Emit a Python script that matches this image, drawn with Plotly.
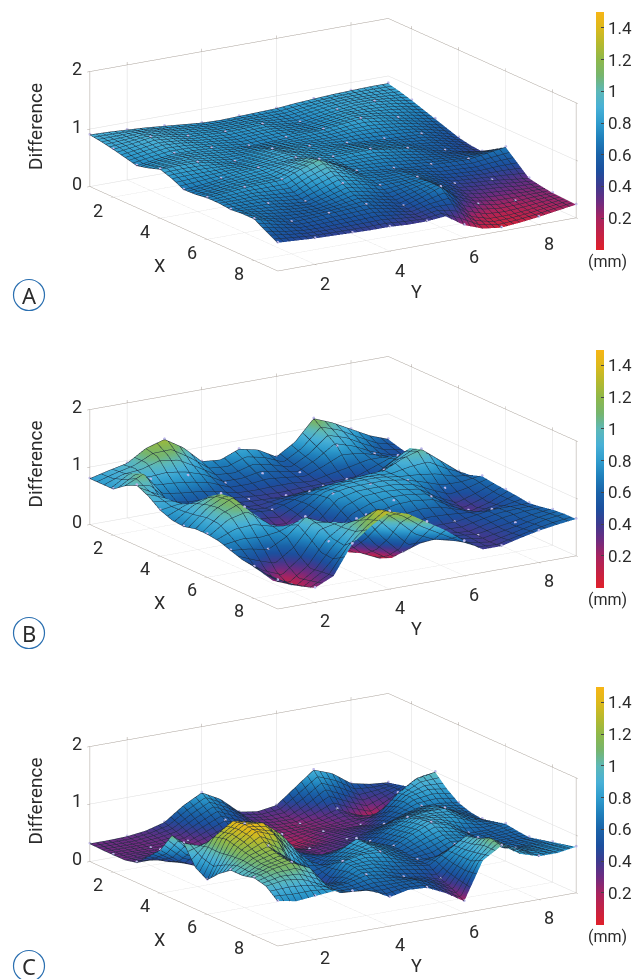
import plotly.graph_objects as go

grid = [1,1.5,2,2.5,3,3.5,4,4.5,5,5.5,6,6.5,7,7.5,8,8.5,9]
z_a = [
[.90,.89,.87,.85,.82,.79,.76,.75,.76,.77,.78,.81,.83,.85,.86,.87,.87],
[.87,.88,.90,.88,.83,.80,.77,.77,.78,.76,.75,.79,.83,.85,.85,.84,.82],
[.83,.87,.92,.88,.82,.80,.78,.79,.80,.75,.72,.77,.82,.85,.85,.81,.76],
[.78,.83,.88,.86,.81,.78,.75,.77,.78,.75,.74,.79,.84,.83,.80,.76,.69],
[.73,.78,.82,.82,.80,.76,.72,.73,.75,.77,.78,.82,.85,.81,.75,.69,.62],
[.78,.83,.85,.82,.78,.76,.78,.77,.76,.75,.75,.77,.77,.74,.70,.63,.55],
[.85,.86,.85,.80,.75,.79,.85,.81,.78,.75,.72,.70,.68,.67,.65,.57,.48],
[.78,.79,.79,.79,.78,.83,.88,.83,.78,.77,.76,.72,.69,.63,.60,.52,.44],
[.68,.71,.75,.79,.82,.85,.88,.83,.78,.79,.80,.75,.70,.62,.55,.48,.42],
[.69,.72,.76,.78,.80,.90,.98,.85,.74,.74,.73,.69,.64,.60,.56,.54,.55],
[.72,.75,.78,.79,.80,.93,1.04,.88,.72,.68,.65,.62,.60,.59,.58,.63,.68],
[.72,.72,.73,.70,.68,.82,.93,.82,.70,.67,.68,.60,.52,.50,.48,.50,.50],
[.70,.69,.68,.63,.60,.69,.80,.74,.65,.66,.68,.57,.45,.42,.40,.36,.32],
[.72,.66,.62,.59,.58,.63,.70,.63,.55,.63,.70,.52,.37,.33,.31,.28,.28],
[.72,.63,.55,.56,.58,.60,.62,.55,.48,.58,.70,.42,.28,.22,.22,.24,.25],
[.60,.54,.50,.49,.50,.51,.52,.48,.43,.50,.50,.22,.13,.13,.16,.20,.24],
[.49,.47,.45,.44,.43,.42,.42,.40,.40,.43,.22,.10,.06,.09,.13,.18,.23]]
z_b = [
[.80,.88,.95,1.15,1.25,1.05,.75,.72,.85,.78,.60,.80,1.15,1.02,.85,.68,.56],
[.80,.90,.98,1.10,1.05,.85,.65,.62,.72,.65,.54,.72,1.0,.90,.72,.56,.50],
[.80,1.02,.85,.85,.80,.72,.55,.55,.60,.55,.50,.65,.85,.75,.60,.50,.45],
[.95,1.10,.70,.65,.62,.56,.48,.47,.48,.48,.45,.52,.58,.65,.65,.55,.48],
[1.05,.85,.55,.48,.50,.48,.45,.42,.40,.42,.45,.42,.40,.55,.75,.68,.55],
[.95,.85,.65,.52,.50,.45,.42,.48,.52,.58,.60,.58,.58,.78,.98,.80,.55],
[.80,.85,.80,.65,.55,.48,.45,.55,.65,.72,.75,.78,.80,.95,1.05,.80,.55],
[.72,.92,1.02,.78,.50,.38,.35,.55,.75,.82,.85,.85,.80,.80,.78,.65,.58],
[.70,.98,1.15,.82,.40,.28,.25,.50,.80,.85,.85,.85,.80,.68,.55,.58,.65],
[.75,1.02,1.18,.85,.45,.22,.18,.35,.68,.80,.82,.80,.75,.55,.40,.50,.62],
[.75,1.0,1.10,.82,.50,.25,.15,.25,.55,.68,.75,.75,.70,.50,.35,.45,.60],
[.72,.82,.82,.78,.80,.60,.28,.12,.25,.45,.55,.60,.58,.50,.42,.48,.58],
[.65,.62,.55,.72,1.0,.85,.50,.20,.05,.20,.40,.45,.45,.50,.55,.55,.55],
[.58,.38,.25,.50,.92,.95,.80,.40,.15,.30,.48,.42,.40,.48,.55,.58,.58],
[.55,.25,.12,.35,.75,1.0,1.10,.70,.35,.45,.55,.45,.40,.45,.50,.57,.62],
[.52,.32,.18,.38,.70,1.05,1.30,1.05,.75,.60,.52,.43,.38,.45,.52,.60,.64],
[.50,.35,.25,.40,.90,1.15,1.35,1.25,1.05,.85,.60,.40,.40,.48,.55,.60,.64]]
z_c = [
[.31,.31,.32,.36,.45,.68,.85,.68,.40,.35,.40,.65,.90,.78,.55,.48,.45],
[.30,.30,.30,.33,.38,.55,.70,.55,.35,.30,.30,.45,.65,.50,.35,.42,.50],
[.30,.30,.30,.30,.30,.42,.55,.42,.30,.26,.25,.30,.40,.25,.15,.35,.55],
[.30,.32,.30,.27,.26,.30,.38,.30,.22,.24,.26,.28,.32,.28,.38,.65,.85],
[.35,.35,.30,.26,.25,.27,.30,.22,.15,.22,.30,.30,.30,.45,.75,.95,1.0],
[.55,.40,.32,.32,.32,.30,.32,.28,.22,.26,.32,.36,.40,.58,.78,.85,.80],
[.75,.50,.35,.38,.40,.36,.35,.32,.30,.32,.35,.42,.50,.62,.70,.70,.65],
[1.10,.75,.65,.50,.42,.42,.45,.38,.30,.35,.42,.55,.68,.75,.80,.68,.58],
[1.05,.95,1.10,.85,.50,.50,.55,.45,.35,.42,.50,.68,.80,.85,.85,.68,.55],
[.72,1.20,1.42,1.35,.95,.62,.52,.55,.60,.58,.55,.72,.88,.85,.78,.65,.60],
[.60,1.25,1.45,1.42,1.15,.75,.50,.68,.85,.72,.60,.76,.90,.80,.60,.60,.65],
[.80,1.20,1.42,1.30,.85,.55,.62,.75,.85,.70,.58,.68,.78,.72,.60,.60,.62],
[.95,1.15,1.25,1.0,.25,.40,.75,.82,.80,.65,.55,.55,.70,.68,.60,.60,.60],
[.95,1.10,1.18,.98,.55,.55,.75,.75,.65,.60,.55,.75,.95,.80,.62,.62,.65],
[1.0,1.10,1.15,1.0,.60,.62,.70,.65,.55,.50,.40,.75,1.0,.85,.70,.68,.70],
[.95,1.0,.95,.80,.60,.58,.60,.60,.60,.48,.32,.75,1.10,.90,.75,.72,.75],
[.78,.72,.75,.78,.72,.68,.50,.57,.55,.40,.20,.85,1.05,.85,.75,.75,.80]]
panels = ["A","B","C"]
cbar_vals = [.2,.4,.6,.8,1,1.2,1.4]
cbar_text = ["0.2","0.4","0.6","0.8","1","1.2","1.4"]
xy_ticks = [2,4,6,8]
z_ticks = [0,1,2]
cs = [[0,"#e0202a"],[.133,"#a8235f"],[.2,"#6f2b80"],[.267,"#3f3a8e"],[.333,"#1c4f9e"],[.4,"#1a62a8"],
      [.467,"#1f7fbb"],[.533,"#2f9ccd"],[.6,"#48b0d6"],[.667,"#5db8b8"],[.733,"#76b56e"],[.8,"#8eb84a"],
      [.867,"#b5b92e"],[.933,"#dcb91c"],[1,"#f7b516"]]

W,H = 640,979
FONT = "Roboto"
TXT = "#2b2b2b"
SCALE = 2.32
fig = go.Figure()
offs = [0,337.5,674.5]
letter_y = [295,633,966]
mesh = [0.1667,0.3,0.1667]
ann=[];shapes=[]
layout={}
for i,(z,off) in enumerate(zip([z_a,z_b,z_c],offs)):
    sid = "scene" if i==0 else f"scene{i+1}"
    zt = [list(r) for r in zip(*z)]
    fig.add_surface(x=grid,y=grid,z=zt,scene=sid,cmin=0,cmax=1.5,colorscale=cs,
        lighting=dict(ambient=1,diffuse=0,specular=0,fresnel=0),
        contours=dict(x=dict(show=True,start=1,end=9,size=mesh[i],color="#1c2a3c",width=1),
                      y=dict(show=True,start=1,end=9,size=mesh[i],color="#1c2a3c",width=1)),
        colorbar=dict(x=596/W,xanchor="left",y=1-(12+off)/H,yanchor="top",len=238/H,lenmode="fraction",
                      thickness=8,ypad=0,xpad=0,outlinewidth=0,tickvals=cbar_vals,ticktext=cbar_text,
                      ticks="inside",ticklen=3,tickcolor="#444",tickfont=dict(family=FONT,size=17,color=TXT)))
    nodes = [(grid[a],grid[b],z[a][b]+.012) for a in range(0,17,2) for b in range(0,17,2)]
    fig.add_scatter3d(x=[n[0] for n in nodes],y=[n[1] for n in nodes],z=[n[2] for n in nodes],scene=sid,
                      mode="markers",marker=dict(size=1.6,color="#bdb8ea"),showlegend=False,hoverinfo="skip")
    def ax(tv,rng):
        return dict(range=rng,tickvals=tv,title=dict(text=""),showbackground=False,showline=True,mirror="all",
            linecolor="#a89f98",linewidth=1,gridcolor="#dcdcdc",gridwidth=1,zeroline=False,showspikes=False,
            showticklabels=False,ticks="outside",ticklen=3,tickcolor="#a89f98")
    y0 = off
    y1 = off+304
    sa=[]
    def SA(x,y,zv,s,dx,dy):
        sa.append(dict(x=x,y=y,z=zv,text=s,showarrow=False,xshift=dx,yshift=dy,
                       font=dict(family=FONT,size=18,color=TXT)))
    for t in xy_ticks:
        SA(t,1,0,str(t),-15,-13)
        SA(9,t,0,str(t),10,-19)
    for t in z_ticks:
        SA(1,1,t,str(t),-13,3)
    layout[sid]=dict(domain=dict(x=[26/W,1],y=[1-y1/H,1-y0/H]),
        xaxis=ax(xy_ticks,[1,9]),yaxis=ax(xy_ticks,[1,9]),zaxis=ax(z_ticks,[0,2]),
        aspectmode="manual",aspectratio=dict(x=SCALE,y=SCALE,z=.34*SCALE),annotations=sa,
        camera=dict(projection=dict(type="orthographic"),up=dict(x=0,y=0,z=1),center=dict(x=0,y=0,z=-0.05),
                    eye=dict(x=.807*1.6,y=-.508*1.6,z=.40)))
    def T(px,py,s,size=19,ang=0,fam=FONT):
        ann.append(dict(x=px/W,y=1-py/H,xref="paper",yref="paper",text=s,showarrow=False,textangle=ang,
                        font=dict(family=fam,size=size,color=TXT),xanchor="center",yanchor="middle"))
    T(35,127+off,"Difference",19,-90)
    T(159,265+off,"X",18)
    T(416,291+off,"Y",18)
    T(607,262+off,"(mm)",16)
    T(29,letter_y[i],panels[i],22,0,"Noto Sans")
    shapes.append(dict(type="circle",xref="paper",yref="paper",x0=13.5/W,x1=44.5/W,y0=1-(letter_y[i]+15.5)/H,y1=1-(letter_y[i]-15.5)/H,
                       line=dict(color="#2a6fb0",width=1.2)))
fig.update_layout(width=W,height=H,margin=dict(l=0,r=0,t=0,b=0),paper_bgcolor="white",annotations=ann,shapes=shapes,**layout)
fig.write_html("out.html",post_script="document.body.style.margin='0';",config=dict(displayModeBar=False))
